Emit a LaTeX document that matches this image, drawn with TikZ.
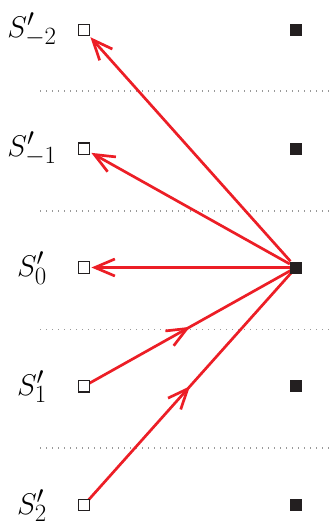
\documentclass[tikz,border=0pt]{standalone}
\usetikzlibrary{arrows.meta,decorations.markings}
\definecolor{arrowred}{RGB}{236,30,38}
\definecolor{boxblack}{RGB}{35,31,32}
\begin{document}
\begin{tikzpicture}[x=1pt,y=-1pt,
  openbox/.style={draw=boxblack,line width=1.4pt,fill=white,minimum size=11.5pt,inner sep=0pt},
  fullbox/.style={fill=boxblack,minimum size=12pt,inner sep=0pt},
  rowlabel/.style={font=\Huge,scale=1.2,inner sep=0pt},
  separator/.style={gray!80,line width=1.1pt,dash pattern=on 1.1pt off 4.9pt},
  link/.style={draw=arrowred,line width=2.7pt},
  tolink/.style={link,shorten >=1pt,-{Straight Barb[length=20pt,width=17pt]}},
  midlink/.style={link,postaction={decorate},decoration={markings,
      mark=at position 0.5 with {\arrow[arrowred,line width=2.7pt]{Straight Barb[length=20pt,width=17pt]}}}}]
  \useasboundingbox (0,0) rectangle (334,525);

  % separators between the rows
  \foreach \yy in {91,211,329.5,448}
    \draw[separator] (40,\yy) -- (334,\yy);

  % left column: open boxes with labels
  \node[openbox] (sm2) at (84,30) {};
  \node[openbox] (sm1) at (84,148.75) {};
  \node[openbox] (s0)  at (84,267.5) {};
  \node[openbox] (s1)  at (84,386.25) {};
  \node[openbox] (s2)  at (84,505) {};

  \node[rowlabel] (lm2) at (32,30)     {$S'_{-2}$};
  \node[rowlabel] (lm1) at (32,148.75) {$S'_{-1}$};
  \node[rowlabel] (l0)  at (32,268)    {$S'_{0}$};
  \node[rowlabel] (l1)  at (32,386.75) {$S'_{1}$};
  \node[rowlabel] (l2)  at (32,505.5)  {$S'_{2}$};

  % right column: filled boxes
  \node[fullbox] (tm2) at (296,30) {};
  \node[fullbox] (tm1) at (296,148.75) {};
  \node[fullbox] (t0)  at (296,267.5) {};
  \node[fullbox] (t1)  at (296,386.25) {};
  \node[fullbox] (t2)  at (296,505) {};

  % connectors
  \draw[tolink] (t0) -- (sm2);
  \draw[tolink] (t0) -- (sm1);
  \draw[tolink] (t0) -- (s0);
  \draw[midlink] (s1.center) -- (t0.center);
  \draw[midlink] (s2.center) -- (t0.center);

  % redraw boxes on top of the line ends
  \foreach \b in {sm2,sm1,s0,s1,s2}
    \node[openbox] at (\b) {};
  \node[fullbox] at (t0) {};
\end{tikzpicture}
\end{document}
